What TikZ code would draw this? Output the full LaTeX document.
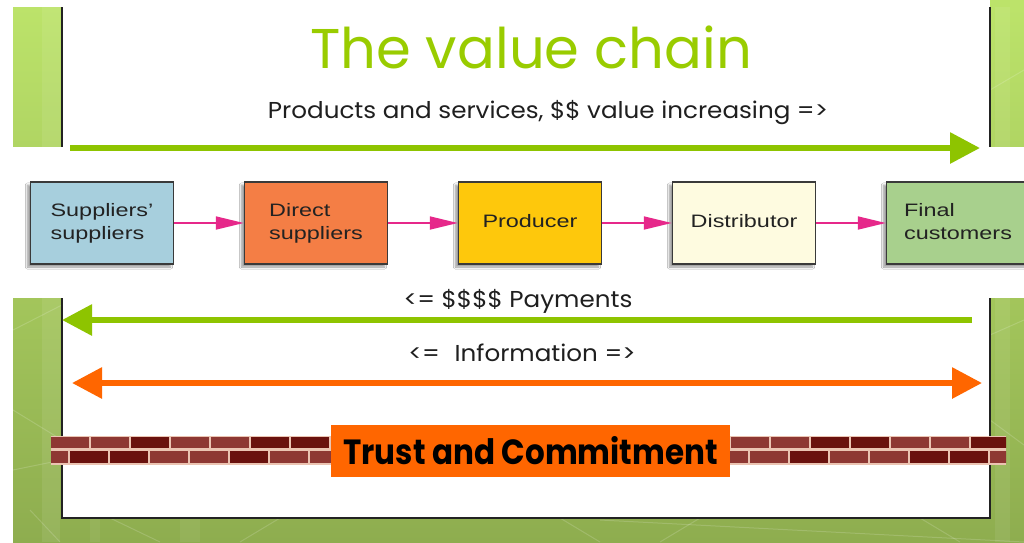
\documentclass[tikz,border=0pt]{standalone}
\usepackage{fontspec}
\setmainfont{Liberation Sans}
\newfontfamily\gothic{Poppins}
\usetikzlibrary{arrows.meta,shadows.blur}

\definecolor{slidegreenA}{HTML}{BCE36A}
\definecolor{slidegreenB}{HTML}{8EAD4F}
\definecolor{titlegreen}{HTML}{99CC00}
\definecolor{arrowgreen}{HTML}{8EC400}
\definecolor{infoorange}{HTML}{FF6600}
\definecolor{flowpink}{HTML}{E6288A}
\definecolor{boxedge}{HTML}{3A3A3A}
\definecolor{boxtext}{HTML}{222222}
\definecolor{fillblue}{HTML}{A7CFDD}
\definecolor{fillorange}{HTML}{F47E45}
\definecolor{fillgold}{HTML}{FEC80C}
\definecolor{fillcream}{HTML}{FEFBE0}
\definecolor{fillgreen}{HTML}{A8D08D}
\definecolor{brickdark}{HTML}{6A120E}
\definecolor{brickmid}{HTML}{8E3833}
\definecolor{mortar}{HTML}{EBC4B2}
\definecolor{framedark}{HTML}{222222}

% two-line box caption, set a little wider than the font's natural width
\newcommand\wideline[1]{\scalebox{1.3}[1]{\begin{tabular}{@{}l@{}}#1\end{tabular}}}
% slide captions, slightly widened
\newcommand\widecap[1]{\scalebox{1.07}[1]{#1}}

\begin{document}
\begin{tikzpicture}[x=1pt,y=-1pt,
  chainbox/.style={draw=boxedge, line width=1.4pt, minimum width=143pt,
    minimum height=82pt, inner sep=0pt,
    blur shadow={shadow xshift=-3pt, shadow yshift=-3pt, shadow blur steps=6},
    font=\fontsize{18}{23}\selectfont, text=boxtext},
  flow/.style={draw=flowpink, line width=1.8pt, -{Triangle[length=28pt,width=13pt]}},
  bigarrow/.style={line width=6pt, -{Triangle[length=30pt,width=30pt]}},
  bothways/.style={line width=6pt,
    {Triangle[length=30pt,width=30pt]}-{Triangle[length=30pt,width=30pt]}},
  caption/.style={font=\gothic\fontsize{23}{26}\selectfont, text=black!88, inner sep=0pt},
  frameline/.style={draw=framedark, line width=1.3pt},
  texture/.style={white, opacity=0.16, line width=1pt}
]
\useasboundingbox (0,0) rectangle (1024,542);
\clip (0,0) rectangle (1024,542);

% slide background
\fill[white] (0,0) rectangle (1024,542);
\shade[top color=slidegreenA, bottom color=slidegreenB] (13,7) rectangle (1024,542);
\fill[slidegreenA] (953,0) rectangle (1024,7);
\draw[frameline] (953,0) -- (953,7);
% faint streaks in the green texture
\fill[white, opacity=0.08] (42,7) rectangle (60,542);
\fill[white, opacity=0.07] (995,7) rectangle (1010,542);
\fill[white, opacity=0.06] (90,518) rectangle (100,542);
\fill[white, opacity=0.06] (180,518) rectangle (200,542);
\draw[texture] (13,330) -- (62,305);
\draw[texture] (13,410) -- (62,440);
\draw[texture] (13,470) -- (62,460);
\draw[texture] (30,510) -- (60,542);
\draw[texture] (110,518) -- (160,542);
\draw[texture] (280,518) -- (240,542);
\draw[texture] (560,518) -- (600,542);
\draw[texture] (700,518) -- (660,542);
\draw[texture] (600,520) -- (1024,542);
\draw[texture] (920,518) -- (960,542);
\draw[texture] (990,335) -- (1024,320);
\draw[texture] (990,420) -- (1024,445);
\draw[texture] (990,90) -- (1024,70);

% white slide areas
\fill[white] (62,0) rectangle (990,147);
\fill[white] (13,147) rectangle (1024,298);
\fill[white] (62,298) rectangle (990,518);
\draw[frameline] (62,7) -- (62,147);
\draw[frameline] (990,7) -- (990,147);
\draw[frameline] (62,298) -- (62,518) -- (990,518) -- (990,298);

% title and value arrow
\node[font=\gothic\fontsize{56}{56}\selectfont, text=titlegreen, inner sep=0pt]
  (title) at (531,47) {The value chain};
\node[caption] (valuelabel) at (548,113) {\widecap{Products and services, \$\$ value increasing =>}};
\coordinate (valuestart) at (70,148);
\coordinate (valueend) at (980,148);
\draw[bigarrow, arrowgreen] (valuestart) -- (valueend);

% the chain of firms
\node[chainbox, fill=fillblue]   (supsup)   at (102,223) {\wideline{Suppliers'\\suppliers}};
\node[chainbox, fill=fillorange] (direct)   at (316,223) {\wideline{Direct\\suppliers}};
\node[chainbox, fill=fillgold]   (producer) at (530,223) {\wideline{Producer}};
\node[chainbox, fill=fillcream]  (distrib)  at (744,223) {\wideline{Distributor}};
\node[chainbox, fill=fillgreen]  (final)    at (958,223) {\wideline{Final\\customers}};
\draw[flow] (supsup.east) -- (direct.west);
\draw[flow] (direct.east) -- (producer.west);
\draw[flow] (producer.east) -- (distrib.west);
\draw[flow] (distrib.east) -- (final.west);

% payments flow back upstream
\node[caption] (paylabel) at (518,301) {\widecap{<= \$\$\$\$ Payments}};
\coordinate (paystart) at (972,320);
\coordinate (payend) at (62,320);
\draw[bigarrow, arrowgreen] (paystart) -- (payend);

% information flows both ways
\node[caption] (infolabel) at (522,353) {\widecap{<=\hspace{0.6em}Information =>}};
\coordinate (infoleft) at (72,383);
\coordinate (inforight) at (982,383);
\draw[bothways, infoorange] (infoleft) -- (inforight);

% brick wall
\fill[mortar] (51,436) rectangle (1006,465);
\begin{scope}
  \clip (51,436) rectangle (1006,465);
  \foreach \k in {0,...,23} {
    \pgfmathtruncatemacro\shade{mod(\k*37+11,7)}
    \ifnum\shade<3 \def\bc{brickdark}\else\def\bc{brickmid}\fi
    \fill[\bc] (51+40*\k,437) rectangle (89+40*\k,448);
  }
  \foreach \k in {0,...,24} {
    \pgfmathtruncatemacro\shade{mod(\k*23+5,7)}
    \ifnum\shade<3 \def\bc{brickdark}\else\def\bc{brickmid}\fi
    \fill[\bc] (30+40*\k,451) rectangle (68+40*\k,463);
  }
\end{scope}

% trust banner
\node[fill=infoorange, minimum width=399pt, minimum height=52pt, inner sep=0pt,
  font=\gothic\bfseries\fontsize{35}{40}\selectfont, text=black]
  (trust) at (530.5,451) {\scalebox{0.885}[1]{Trust and Commitment}};
\end{tikzpicture}
\end{document}
